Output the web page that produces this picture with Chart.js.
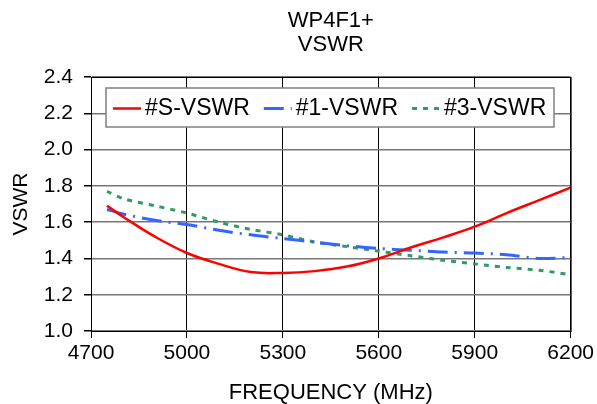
<!DOCTYPE html>
<html><head><meta charset="utf-8">
<script src="https://cdn.jsdelivr.net/npm/chart.js@4.4.1/dist/chart.umd.min.js"></script>
<style>html,body{margin:0;padding:0;background:#fff}</style>
</head><body>
<canvas id="c" width="597" height="404"></canvas>
<script>
const titleLines = ['WP4F1+', 'VSWR'];
const seriesLabels = ['#S-VSWR', '#1-VSWR', '#3-VSWR'];
const frequencies = [4750, 4800, 4900, 5000, 5100, 5200, 5300, 5400, 5500, 5600, 5700, 5800, 5900, 6000, 6100, 6200];
const vswrS = [1.69, 1.63, 1.52, 1.43, 1.37, 1.325, 1.32, 1.33, 1.355, 1.40, 1.46, 1.515, 1.575, 1.65, 1.72, 1.79];
const vswr1 = [1.67, 1.645, 1.61, 1.587, 1.555, 1.53, 1.51, 1.49, 1.47, 1.455, 1.445, 1.435, 1.43, 1.42, 1.40, 1.405];
const vswr3 = [1.77, 1.73, 1.69, 1.65, 1.60, 1.56, 1.53, 1.49, 1.465, 1.44, 1.415, 1.39, 1.37, 1.35, 1.335, 1.31];
const xTicks = [4700, 5000, 5300, 5600, 5900, 6200];
const yTicks = [1.0, 1.2, 1.4, 1.6, 1.8, 2.0, 2.2, 2.4];
const xAxisTitle = 'FREQUENCY (MHz)';
const yAxisTitle = 'VSWR';

const FONT = 'Arial, "Liberation Sans", sans-serif';
const toXY = arr => arr.map((v, i) => ({x: frequencies[i], y: v}));

const frame = {
  id: 'frame',
  afterDatasetsDraw(chart) {
    const ctx = chart.ctx, a = chart.chartArea;
    ctx.save();
    ctx.strokeStyle = '#000';
    ctx.lineWidth = 1;
    ctx.strokeRect(a.left + 0.5, a.top + 0.5, a.right - a.left, a.bottom - a.top);
    // legend box
    const x0 = a.left + 15, y0 = a.top + 11, w = 448, h = 39;
    ctx.fillStyle = '#fff';
    ctx.fillRect(x0, y0, w, h);
    ctx.strokeStyle = '#808080';
    ctx.lineWidth = 1.5;
    ctx.strokeRect(x0, y0, w, h);
    ctx.font = '23px ' + FONT;
    ctx.textBaseline = 'middle';
    ctx.textAlign = 'left';
    let x = x0 + 7;
    const cy = y0 + h / 2 + 1;
    chart.data.datasets.forEach(ds => {
      ctx.beginPath();
      ctx.setLineDash(ds.borderDash || []);
      ctx.strokeStyle = ds.borderColor;
      ctx.lineWidth = ds.borderWidth;
      ctx.moveTo(x, cy);
      ctx.lineTo(x + 28, cy);
      ctx.stroke();
      ctx.setLineDash([]);
      ctx.fillStyle = '#000';
      ctx.fillText(ds.label, x + 32, cy);
      x += 32 + ctx.measureText(ds.label).width + 14;
    });
    // chart title, centred over the plot area
    ctx.font = '22px ' + FONT;
    ctx.textAlign = 'center';
    const cx = (a.left + a.right) / 2;
    titleLines.forEach((t, i) => ctx.fillText(t, cx, 20.5 + i * 24.5));
    ctx.restore();
  }
};

new Chart(document.getElementById('c'), {
  type: 'line',
  data: {
    datasets: [
      {label: seriesLabels[0], data: toXY(vswrS), borderColor: '#FF0000', borderWidth: 2.5, tension: 0.4, pointRadius: 0, fill: false},
      {label: seriesLabels[1], data: toXY(vswr1), borderColor: '#3366FF', borderWidth: 3, borderDash: [20, 7, 2, 7], tension: 0.3, pointRadius: 0, fill: false},
      {label: seriesLabels[2], data: toXY(vswr3), borderColor: '#339966', borderWidth: 3, borderDash: [5, 6], tension: 0.3, pointRadius: 0, fill: false}
    ]
  },
  options: {
    responsive: false,
    animation: false,
    devicePixelRatio: 1,
    layout: {padding: {left: 0, right: 18, top: 77, bottom: 0}},
    plugins: {
      legend: {display: false},
      tooltip: {enabled: false},
      title: {display: false}
    },
    scales: {
      x: {
        type: 'linear',
        min: 4700, max: 6200,
        afterBuildTicks: s => { s.ticks = xTicks.map(v => ({value: v})); },
        afterFit: s => { s.height = 73; },
        ticks: {color: '#000', font: {family: FONT, size: 21}, padding: 3, maxRotation: 0, autoSkip: false,
          callback: v => String(v)},
        grid: {color: '#000', lineWidth: 1, tickLength: 7, tickColor: '#000'},
        border: {color: '#000', width: 1},
        title: {display: true, text: xAxisTitle, color: '#000', font: {family: FONT, size: 22, lineHeight: 1}, padding: {top: 0, bottom: 0}}
      },
      y: {
        min: 1.0, max: 2.4,
        afterBuildTicks: s => { s.ticks = yTicks.map(v => ({value: v})); },
        afterFit: s => { s.width = 91; },
        ticks: {color: '#000', font: {family: FONT, size: 21}, padding: 11,
          callback: v => Number(v).toFixed(1)},
        grid: {color: '#777', lineWidth: 1.5, tickLength: 7, tickColor: '#000'},
        border: {color: '#000', width: 1},
        title: {display: true, text: yAxisTitle, color: '#000', font: {family: FONT, size: 21, lineHeight: 1}, padding: {top: 11, bottom: 0}}
      }
    }
  },
  plugins: [frame]
});
</script>
</body></html>
